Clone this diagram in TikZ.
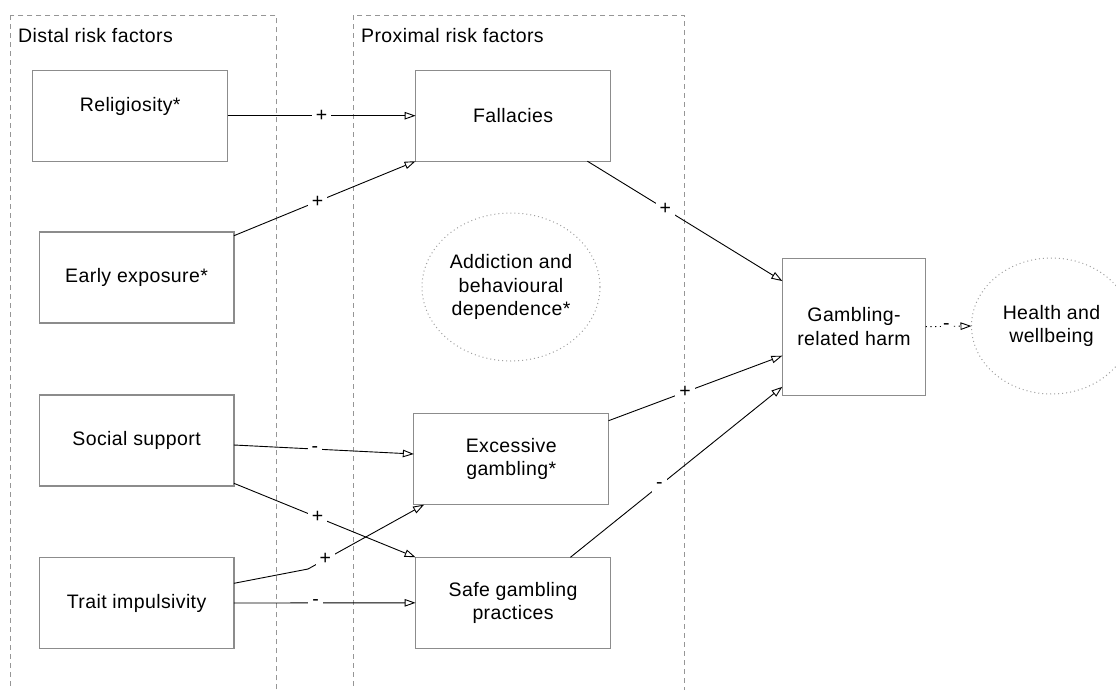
\documentclass[tikz,border=0pt]{standalone}
\usepackage{fontspec}
\setmainfont[LetterSpace=2]{Liberation Sans}
\usetikzlibrary{arrows.meta,shapes.geometric}
\definecolor{boxgray}{RGB}{140,140,140}
\definecolor{framegray}{RGB}{150,150,150}
\definecolor{dotgray}{RGB}{160,160,160}
\newcommand\dfont{\fontsize{19.5}{23.7}\selectfont}
\begin{document}
\begin{tikzpicture}[x=1pt,y=-1pt,
  frame/.style={draw=framegray,line width=1pt,dash pattern=on 5pt off 4pt},
  box/.style={rectangle,draw=boxgray,line width=1.1pt,fill=white,minimum width=195pt,minimum height=91pt,inner sep=0pt,outer sep=0pt,align=center,font=\dfont},
  txt/.style={inner sep=0pt,align=center,font=\dfont},
  ell/.style={ellipse,draw=dotgray,line width=1pt,dash pattern=on 1pt off 3pt,inner sep=0pt,outer sep=0pt,align=center,font=\dfont},
  conn/.style={draw=black,line width=0.9pt,-{Triangle[open,length=11pt,width=7.5pt]}},
  sign/.style={fill=white,inner sep=4pt,font=\dfont}]
\useasboundingbox (0,0) rectangle (1116,689);
% frames
\draw[frame] (10.7,15) rectangle (276,710);
\draw[frame] (353.6,15) rectangle (684.4,710);
\node[txt,anchor=base west] (distal) at (18,42) {Distal risk factors};
\node[txt,anchor=base west] (proximal) at (361,42) {Proximal risk factors};
% boxes
\node[box] (rel) at (130.2,115.7) {};
\node[txt] (reltext) at (130.2,106) {Religiosity*};
\node[box,minimum width=194.7pt] (early) at (136.6,277.5) {Early exposure*};
\node[box,minimum width=194.7pt] (social) at (136.6,440.5) {Social support};
\node[box,minimum width=194.7pt,minimum height=90.6pt] (trait) at (136.6,603) {Trait impulsivity};
\node[box] (fall) at (513.1,115.7) {Fallacies};
\node[box,minimum width=194.7pt,minimum height=91.4pt] (exc) at (511.2,459) {Excessive\\gambling*};
\node[box,minimum height=91pt] (safe) at (513.1,602.8) {Safe gambling\\practices};
\node[box,minimum width=143.3pt,minimum height=136.7pt] (harm) at (854,326.7) {Gambling-\\related harm};
\node[ell,minimum width=178pt,minimum height=148pt] (addict) at (511,287) {Addiction and\\behavioural\\dependence*};
\node[ell,minimum width=160pt,minimum height=136pt] (health) at (1051.5,326) {Health and\\wellbeing};
\coordinate (kink) at (308,569);
% connectors
\draw[conn] (rel.east) -- node[sign,pos=.5]{+} (fall.west);
\draw[conn] ([yshift=-3.7pt]early.north east) -- node[sign,pos=.46]{+} (fall.south west);
\draw[conn] ([yshift=-4.5pt]social.east) -- node[sign,pos=.45]{-} ([yshift=5pt]exc.west);
\draw[conn] ([yshift=2.7pt]social.south east) -- node[sign,pos=.46]{+} (safe.north west);
\draw[conn] ([yshift=19.7pt]trait.east) -- (kink) -- node[sign,pos=.15]{+} ([xshift=10.2pt]exc.south west);
\draw[conn] (trait.east) -- node[sign,pos=.45]{-} (safe.west);
\draw[conn] ([xshift=-23.2pt]fall.south east) -- node[sign,pos=.40]{+} ([yshift=-22.7pt]harm.north west);
\draw[conn] ([yshift=-7.4pt]exc.north east) -- node[sign,pos=.44]{+} ([yshift=-29pt]harm.west);
\draw[conn] ([xshift=-40.2pt]safe.north east) -- node[sign,pos=.42]{-} ([yshift=8.3pt]harm.south west);
\draw[conn,dash pattern=on 1.2pt off 3.5pt] (harm.east) -- node[sign,pos=.45,inner sep=2pt]{-} (health.west);
\end{tikzpicture}
\end{document}
